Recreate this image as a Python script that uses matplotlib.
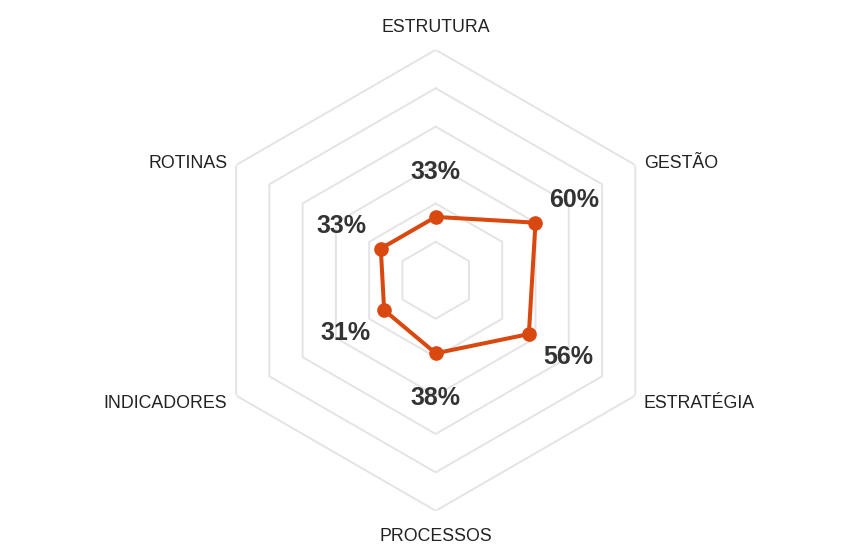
import numpy as np
import matplotlib
matplotlib.use('Agg')
from matplotlib import pyplot as plt

plt.rcParams['font.family'] = ['Liberation Sans', 'DejaVu Sans']

categories = ['ESTRUTURA', 'GESTÃO', 'ESTRATÉGIA', 'PROCESSOS', 'INDICADORES', 'ROTINAS']
values = [33, 60, 56, 38, 31, 33]
value_labels = ['33%', '60%', '56%', '38%', '31%', '33%']
rings = [20, 40, 60, 80, 100, 120]

line_color = '#d9480f'
grid_color = '#e4e4e4'

fig = plt.figure(figsize=(8.68, 5.54), dpi=100)
ax = fig.add_axes([0.2364, 0.078, 0.5311, 0.8321], projection='polar')
ax.set_theta_offset(np.pi / 2)
ax.set_theta_direction(-1)
ax.set_ylim(0, rings[-1])
ax.grid(False)
ax.spines['polar'].set_visible(False)
ax.set_xticks([])
ax.set_yticks([])

n = len(categories)
angles = np.linspace(0, 2 * np.pi, n, endpoint=False)
closed = np.append(angles, angles[0])

# hexagon grid
for r in rings:
    ax.plot(closed, [r] * (n + 1), color=grid_color, lw=1.4, zorder=1)

vals = values + values[:1]
ax.plot(closed, vals, color=line_color, lw=2.9, zorder=3)
ax.plot(angles, values, 'o', color=line_color, ms=9.5, zorder=4)

# value labels, pushed out along each axis
for a, v, lab in zip(angles, values, value_labels):
    ax.annotate(lab, (a, v), xytext=(45 * np.sin(a), 45 * np.cos(a)),
                textcoords='offset pixels', ha='center', va='center',
                fontsize=18, fontweight='bold', color='#333333', zorder=5)

# category labels
for a, cat in zip(angles, categories):
    s = np.sin(a)
    if abs(s) < 0.01:
        ax.annotate(cat, (a, 132.4), xytext=(0, -2), textcoords='offset pixels',
                    ha='center', va='center', fontsize=12.8, color='#222222',
                    annotation_clip=False)
    else:
        ax.annotate(cat, (a, 125.2), xytext=(0, -3), textcoords='offset pixels',
                    ha='left' if s > 0 else 'right', va='center',
                    fontsize=12.8, color='#222222', annotation_clip=False)

fig.savefig('out.png', dpi=100, facecolor='white')
